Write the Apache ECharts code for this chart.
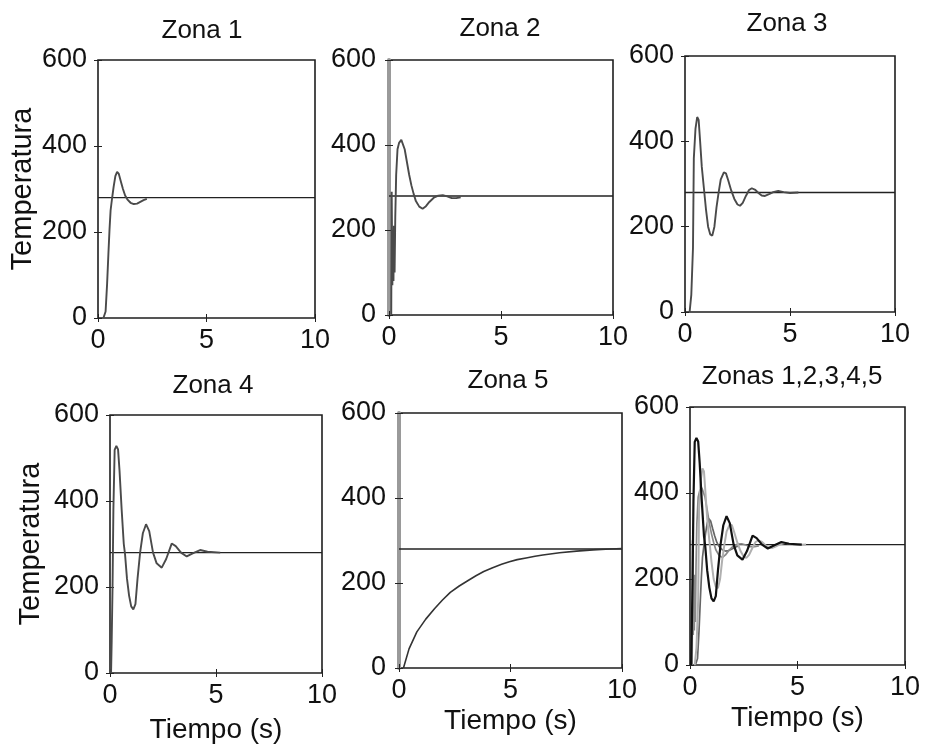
<!DOCTYPE html>
<html>
<head>
<meta charset="utf-8">
<title>Temperatura por zona</title>
<script src="https://cdn.jsdelivr.net/npm/echarts@6/dist/echarts.min.js"></script>
<style>
  html, body { margin: 0; padding: 0; background: #fff; }
  #chart { width: 925px; height: 747px; }
</style>
</head>
<body>
<div id="chart"></div>
<script>
// Respuesta de temperatura de cada zona (tiempo en s, temperatura)
const xTicks = [0, 5, 10];
const yTicks = [0, 200, 400, 600];

// Referencia (consigna)
const refT = [0, 10];
const refV = [280, 280];

const z1T = [0.25, 0.35, 0.42, 0.48, 0.53, 0.58, 0.64, 0.72, 0.8, 0.88, 0.96, 1.05, 1.15, 1.25, 1.35, 1.5, 1.65, 1.8, 1.95, 2.1, 2.25];
const z1V = [0, 15, 80, 150, 205, 250, 275, 305, 330, 340, 335, 318, 300, 285, 276, 268, 265, 266, 270, 274, 277];

const z2T = [0.1, 0.12, 0.15, 0.18, 0.2, 0.22, 0.25, 0.28, 0.32, 0.38, 0.45, 0.55, 0.62, 0.7, 0.8, 0.9, 1.0, 1.1, 1.2, 1.35, 1.5, 1.65, 1.8, 2.0, 2.2, 2.4, 2.6, 2.8, 3.0, 3.2];
const z2V = [0, 290, 70, 200, 80, 210, 100, 230, 330, 390, 405, 412, 410, 390, 360, 330, 305, 285, 268, 255, 250, 256, 266, 276, 281, 282, 279, 275, 275, 277];

const z3T = [0.22, 0.3, 0.38, 0.42, 0.5, 0.58, 0.65, 0.72, 0.8, 0.9, 1.0, 1.1, 1.2, 1.3, 1.4, 1.5, 1.6, 1.7, 1.85, 1.95, 2.05, 2.2, 2.35, 2.5, 2.62, 2.75, 2.9, 3.05, 3.18, 3.35, 3.5, 3.65, 3.81, 4.0, 4.2, 4.44, 4.7, 5.0, 5.4];
const z3V = [0, 40, 150, 360, 430, 457, 450, 400, 340, 290, 240, 200, 182, 179, 200, 245, 280, 310, 327, 325, 310, 285, 265, 252, 249, 256, 272, 286, 290, 286, 279, 273, 272, 276, 281, 284, 281, 279, 280];

const z4T = [0.05, 0.08, 0.12, 0.16, 0.22, 0.3, 0.38, 0.45, 0.55, 0.65, 0.71, 0.8, 0.9, 1.0, 1.1, 1.2, 1.3, 1.42, 1.55, 1.7, 1.85, 2.03, 2.2, 2.44, 2.65, 2.91, 3.1, 3.35, 3.62, 3.9, 4.25, 4.6, 5.2];
const z4V = [0, 75, 200, 380, 519, 528, 520, 470, 380, 300, 276, 220, 180, 155, 148, 160, 220, 280, 325, 346, 330, 280, 255, 245, 265, 301, 295, 280, 271, 278, 286, 282, 280];

const z5T = [0.2, 0.45, 0.8, 1.2, 1.6, 1.95, 2.3, 2.7, 3.1, 3.45, 3.8, 4.2, 4.6, 4.95, 5.3, 5.7, 6.1, 6.45, 7.2, 7.96, 8.7, 9.46, 10];
const z5V = [0, 45, 85, 115, 140, 160, 178, 193, 206, 217, 227, 236, 244, 250, 255, 259, 263, 266, 271, 275, 278, 280, 281];

const titles = ['Zona 1', 'Zona 2', 'Zona 3', 'Zona 4', 'Zona 5', 'Zonas 1,2,3,4,5'];
const yName = 'Temperatura';
const xName = 'Tiempo (s)';

function pairs(t, v) { return t.map((x, i) => [x, v[i]]); }

// Cuadro de cada subgráfica: [left, top, width, height]
const boxes = [
  [98, 60, 217, 258],
  [389, 60, 224, 255],
  [685, 56, 210, 256],
  [110, 415, 212, 258],
  [399, 413, 223, 255],
  [690, 407, 215, 258]
];
// Centro de cada título
const titlePos = [[202, 32], [500, 30], [787, 25], [213, 387], [508, 382], [792, 378]];

const FONT = 'Liberation Sans, Arial, Helvetica, sans-serif';
const INK = '#111';
const grids = [], xAxes = [], yAxes = [], series = [], titleList = [];

const curves = [
  [[z1T, z1V, '#4a4a4a', 1.9]],
  [[z2T, z2V, '#4a4a4a', 1.9]],
  [[z3T, z3V, '#4a4a4a', 1.9]],
  [[z4T, z4V, '#4a4a4a', 1.9]],
  [[z5T, z5V, '#333', 1.6]],
  [[z1T, z1V, '#666', 1.7], [z2T, z2V, '#888', 1.7], [z3T, z3V, '#b0b0b0', 2.0], [z4T, z4V, '#111', 2.2]]
];

boxes.forEach((b, i) => {
  grids.push({
    left: b[0], top: b[1], width: b[2], height: b[3],
    show: true, borderColor: '#1e1e1e', borderWidth: 1.6, backgroundColor: '#fff'
  });
  const isBottom = i >= 3;
  const isLeftCol = i === 0 || i === 3;
  const ghost = i === 1 || i === 4;
  // eje inferior con etiquetas
  xAxes.push({
    type: 'value', gridIndex: i, min: xTicks[0], max: xTicks[xTicks.length - 1], interval: 5,
    axisLine: { show: false },
    axisTick: { show: true, inside: true, length: 4, lineStyle: { color: '#222' } },
    axisLabel: { fontFamily: FONT, fontSize: 27, color: INK, margin: 9 },
    splitLine: { show: false },
    name: isBottom ? xName : '', nameLocation: 'middle', nameGap: i === 3 ? 43 : 39,
    nameTextStyle: { fontFamily: FONT, fontSize: 28, color: INK }
  });
  // eje superior solo con marcas
  xAxes.push({
    type: 'value', gridIndex: i, position: 'top', min: 0, max: 10, interval: 5,
    axisLine: { show: false },
    axisTick: { show: true, inside: true, length: 4, lineStyle: { color: '#222' } },
    axisLabel: { show: false }, splitLine: { show: false }
  });
  yAxes.push({
    type: 'value', gridIndex: i, min: yTicks[0], max: yTicks[yTicks.length - 1], interval: 200,
    axisLine: ghost ? { show: true, lineStyle: { color: '#9a9a9a', width: 4 } } : { show: false },
    offset: ghost ? 2 : 0,
    axisTick: { show: true, inside: true, length: 4, lineStyle: { color: '#222' } },
    axisLabel: { fontFamily: FONT, fontSize: 27, color: INK, margin: ghost ? 11 : 11 },
    splitLine: { show: false },
    name: isLeftCol ? yName : '', nameLocation: 'middle', nameGap: i === 0 ? 61 : 65, nameRotate: 90,
    nameTextStyle: { fontFamily: FONT, fontSize: 29, color: INK }
  });
  yAxes.push({
    type: 'value', gridIndex: i, position: 'right', min: 0, max: 600, interval: 200,
    axisLine: { show: false },
    axisTick: { show: true, inside: true, length: 4, lineStyle: { color: '#222' } },
    axisLabel: { show: false }, splitLine: { show: false }
  });

  // consigna
  series.push({
    type: 'line', xAxisIndex: 2 * i, yAxisIndex: 2 * i, data: pairs(refT, refV),
    showSymbol: false, silent: true, lineStyle: { color: '#222', width: 1.4 }, z: 3
  });
  curves[i].forEach(c => {
    series.push({
      type: 'line', xAxisIndex: 2 * i, yAxisIndex: 2 * i, data: pairs(c[0], c[1]),
      showSymbol: false, silent: true, lineStyle: { color: c[2], width: c[3] }, z: 4
    });
  });

  titleList.push({
    text: titles[i], left: titlePos[i][0], top: titlePos[i][1] - 14, textAlign: 'center', padding: 0,
    textStyle: { fontFamily: FONT, fontSize: 26, fontWeight: 'normal', color: INK }
  });
});

const chart = echarts.init(document.getElementById('chart'), null, { renderer: 'canvas' });
chart.setOption({
  animation: false,
  backgroundColor: '#fff',
  title: titleList,
  grid: grids,
  xAxis: xAxes,
  yAxis: yAxes,
  series: series
});
</script>
</body>
</html>
